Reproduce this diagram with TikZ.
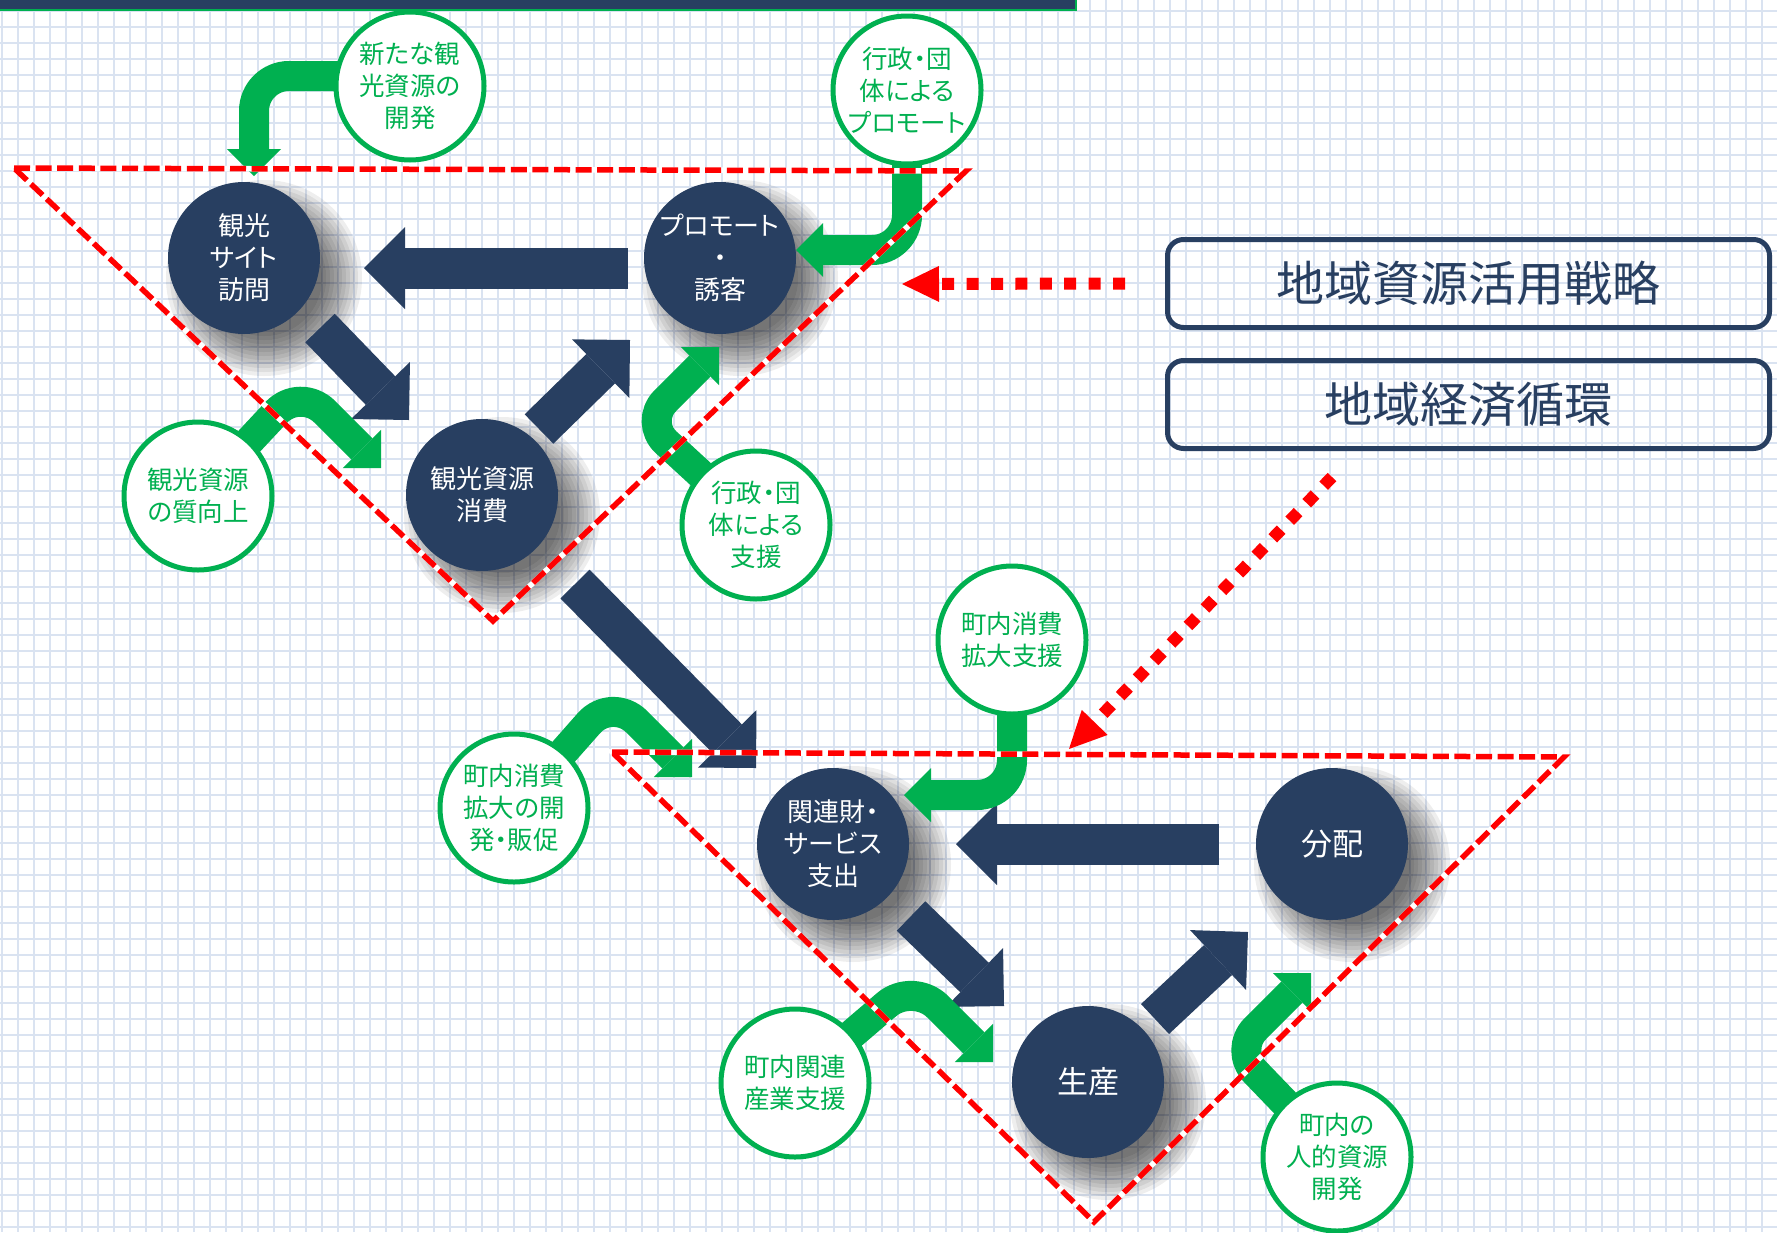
\documentclass[tikz,border=0pt]{standalone}
\usepackage{fontspec}
\newfontfamily\jp[RawFeature=+palt]{Noto Sans CJK JP}
\usetikzlibrary{arrows.meta,calc}
\pgfdeclarelayer{gridl}
\pgfdeclarelayer{shadowl}
\pgfdeclarelayer{arrl}
\pgfdeclarelayer{tril}
\pgfsetlayers{gridl,shadowl,arrl,tril,main}
\definecolor{navy}{RGB}{40,63,97}
\definecolor{grn}{RGB}{0,176,80}
\definecolor{gridc}{RGB}{218,227,241}
\definecolor{redd}{RGB}{255,0,0}
\begin{document}
\begin{tikzpicture}[x=1pt,y=-1pt,
  navyc/.style={circle, fill=navy, text=white, minimum size=152pt, inner sep=0pt, align=center, font=\jp\fontsize{26pt}{32pt}\selectfont},
  bignavy/.style={navyc, font=\jp\fontsize{31pt}{36pt}\selectfont},
  grnc/.style={circle, fill=white, draw=grn, line width=5pt, text=grn, minimum size=148pt, inner sep=0pt, align=center, font=\jp\fontsize{25.5pt}{32pt}\selectfont},
  boxst/.style={draw=navy, line width=5pt, rounded corners=16pt, minimum width=602pt, minimum height=88pt, text=navy, font=\jp\fontsize{48pt}{56pt}\selectfont},
  navyarr/.style={draw=navy, line width=41pt, -{Triangle[length=41pt,width=82pt,line width=0pt]}},
  garr/.style={draw=grn, line width=30pt, rounded corners=35pt, -{Triangle[length=27pt,width=54pt,line width=0pt]}},
  dotarrow/.style={draw=redd, line width=12pt, dash pattern=on 12pt off 12.4pt, -{Triangle[length=37pt,width=36pt,line width=0pt]}},
  triline/.style={redd, line width=5.5pt, dash pattern=on 16pt off 5.6pt, line join=miter},
  triunder/.style={white, line width=5.5pt, line join=miter}
]
\useasboundingbox (0,0) rectangle (1777,1232);

% ---------- main nodes ----------
\node[navyc] (n1) at (244,258) {観光\\サイト\\訪問};
\node[navyc] (prom) at (720,258) {プロモート\\・\\誘客};
\node[navyc] (cons) at (482,495) {観光資源\\消費};
\node[navyc] (kan) at (833,844) {関連財・\\サービス\\支出};
\node[bignavy] (bun) at (1332,844) {分配};
\node[bignavy] (sei) at (1088,1082) {生産};

\node[grnc] (ga) at (410,86) {新たな観\\光資源の\\開発};
\node[grnc] (gb) at (907,90) {行政・団\\体による\\プロモート};
\node[grnc] (gc) at (198,496) {観光資源\\の質向上};
\node[grnc] (gd) at (756,525) {行政・団\\体による\\支援};
\node[grnc] (ge) at (1012,640) {町内消費\\拡大支援};
\node[grnc] (gf) at (514,808) {町内消費\\拡大の開\\発・販促};
\node[grnc] (gg) at (795,1083) {町内関連\\産業支援};
\node[grnc] (gh) at (1337,1157) {町内の\\人的資源\\開発};

\node[boxst] (box1) at (1468.5,283.5) {地域資源活用戦略};
\node[boxst] (box2) at (1468.5,404.5) {地域経済循環};

% top bar
\fill[navy, draw=grn, line width=2pt] (-10,-10) rectangle (1076,10);

% red dotted arrows
\coordinate (r1s) at ($(box1.west)+(-40,0)$);
\coordinate (r1e) at (902,284);
\draw[dotarrow] (r1s) -- (r1e);
\coordinate (r2s) at (1332,477);
\coordinate (r2e) at (1069,749);
\draw[dotarrow] (r2s) -- (r2e);

% ---------- grid background ----------
\begin{pgfonlayer}{gridl}
\fill[white] (0,0) rectangle (1777,1232);
\foreach \x in {2,18,...,1777} \draw[gridc, line width=2pt] (\x,0) -- (\x,1232);
\foreach \y in {10.5,26.5,...,1232} \draw[gridc, line width=2pt] (0,\y) -- (1777,\y);
\end{pgfonlayer}

% ---------- shadows ----------
\begin{pgfonlayer}{shadowl}
\foreach \n in {n1,prom,cons,kan,bun,sei}{
  \foreach \k in {0,...,10}{
    \fill[black, opacity=0.065] ($(\n.center)+(20,20)$) circle[radius={58pt+4pt*\k}];
  }
}
\end{pgfonlayer}

% ---------- arrows ----------
\begin{pgfonlayer}{arrl}
\draw[navyarr] ($(prom.center)+(-92,10)$) -- ($(n1.center)+(120,10)$);
\draw[navyarr] ($(n1.center)+(76,70)$) -- ($(cons.center)+(-73,-75)$);
\draw[navyarr] ($(cons.center)+(57,-66)$) -- ($(prom.center)+(-90,82)$);
\draw[navyarr] ($(cons.center)+(93,89)$) -- ($(kan.center)+(-77,-76)$);
\draw[navyarr] ($(bun.center)+(-113,0)$) -- ($(kan.center)+(123,0)$);
\draw[navyarr] ($(kan.center)+(78,72)$) -- ($(sei.center)+(-84,-76)$);
\draw[navyarr] ($(sei.center)+(67,-63)$) -- ($(bun.center)+(-84,88)$);

\draw[garr] ($(ga.center)+(0,-10)$) -- ($(ga.center)+(-156,-10)$) -- ($(n1.center)+(10,-82)$);
\draw[garr] (gb.center) -- ($(gb.center)+(0,160)$) -- ($(prom.center)+(76,-8)$);
\draw[garr] (gc.center) -- ($(gc.center)+(102,-109)$) -- ($(cons.center)+(-101,-27)$);
\draw[garr, rounded corners=30pt] (gd.center) -- ($(gd.center)+(-112,-103)$) -- ($(prom.center)+(-1,89)$);
\draw[garr] (ge.center) -- ($(ge.center)+(0,155)$) -- ($(kan.center)+(71,-49)$);
\draw[garr] (gf.center) -- ($(gf.center)+(98,-111)$) -- ($(kan.center)+(-141,-67)$);
\draw[garr] (gg.center) -- ($(gg.center)+(118,-101)$) -- ($(sei.center)+(-95,-20)$);
\draw[garr, rounded corners=30pt] (gh.center) -- ($(gh.center)+(-103,-107)$) -- ($(bun.center)+(-21,129)$);
\end{pgfonlayer}

% ---------- red dashed triangles ----------
\begin{pgfonlayer}{tril}
\draw[triunder] (14,168) -- (966,171) -- (493,621) -- cycle;
\draw[triline] (14,168) -- (966,171) -- (493,621) -- cycle;
\draw[triunder] (612,752) -- (1564,757) -- (1094,1222) -- cycle;
\draw[triline] (612,752) -- (1564,757) -- (1094,1222) -- cycle;
\end{pgfonlayer}
\end{tikzpicture}
\end{document}
